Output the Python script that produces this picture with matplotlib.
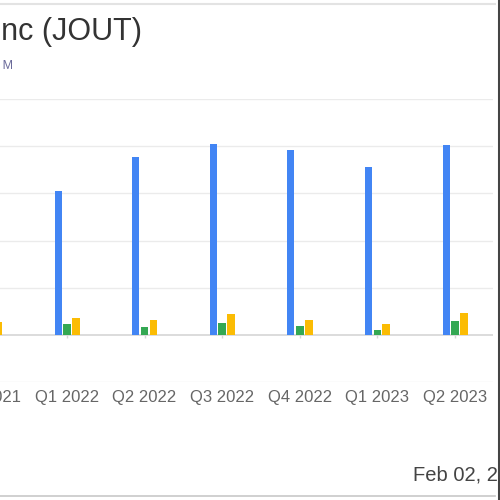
import numpy as np
import matplotlib
matplotlib.use('Agg')
import matplotlib.pyplot as plt
from matplotlib.lines import Line2D

# data (USD M, estimated)
quarters = ['Q4 2021', 'Q1 2022', 'Q2 2022', 'Q3 2022', 'Q4 2022', 'Q1 2023', 'Q2 2023']
revenue = [185.0, 152.5, 188.5, 202.6, 195.6, 178.0, 200.9]
net_income = [10.0, 11.6, 8.5, 12.7, 9.5, 5.3, 14.8]
op_income = [13.7, 18.0, 15.9, 22.2, 15.9, 11.6, 23.3]

plt.rcParams['font.family'] = ['Liberation Sans', 'DejaVu Sans']

fig = plt.figure(figsize=(5, 5), dpi=100)
# axes starts left of the picture, the chart is cropped on that side
left_px = -40
ax = fig.add_axes([left_px / 500, 1 - 382 / 500, (493 - left_px) / 500, (382 - 99) / 500])

x = np.arange(len(quarters))
w = 0.1
ax.bar(x - 0.115, revenue, width=0.09, color='#4285F4', zorder=3)
ax.bar(x, net_income, width=w, color='#34A853', zorder=3)
ax.bar(x + 0.115, op_income, width=w, color='#FBBC04', zorder=3)

# grid
for v in [-50, 50, 100, 150, 200, 250]:
    ax.axhline(v, color='#ebebeb', lw=1, zorder=1)
ax.axhline(0, color='#d6d6d6', lw=1.2, zorder=2)
ax.vlines(x, -3, 0, color='#d6d6d6', lw=1, zorder=2)

ax.set_xticks(x)
ax.set_xticklabels(quarters)
# limits after the ticks, set_xticks would widen them again
step = 77.6
x0 = 1 - (67 - left_px) / step
ax.set_ylim(-50, 250)
ax.set_xlim(x0, x0 + (493 - left_px) / step)
ax.tick_params(axis='x', length=0, pad=6, labelsize=12, labelcolor='#666666')
ax.set_yticks([])
for s in ax.spines.values():
    s.set_visible(False)

# header and footer text
fig.text(142 / 500, 1 - 32 / 500, 'Johnson Outdoors Inc (JOUT)', ha='right', va='center',
         fontsize=22, color='#333333')
fig.text(13 / 500, 1 - 66 / 500, 'Revenue & Income in USD M', ha='right', va='center',
         fontsize=9, color='#6a6a9a')
fig.text(413 / 500, 1 - 475 / 500, 'Feb 02, 2024', ha='left', va='center',
         fontsize=14.5, color='#444444')

# card borders
fig.add_artist(Line2D([0, 495 / 500], [1 - 4 / 500, 1 - 4 / 500], color='#e3e3e3', lw=1.5))
fig.add_artist(Line2D([0, 495 / 500], [1 - 496 / 500, 1 - 496 / 500], color='#c8c8c8', lw=1.2))
fig.add_artist(Line2D([498.5 / 500, 498.5 / 500], [0, 1], color='#444444', lw=2.2))

fig.savefig('out.png', dpi=100)
